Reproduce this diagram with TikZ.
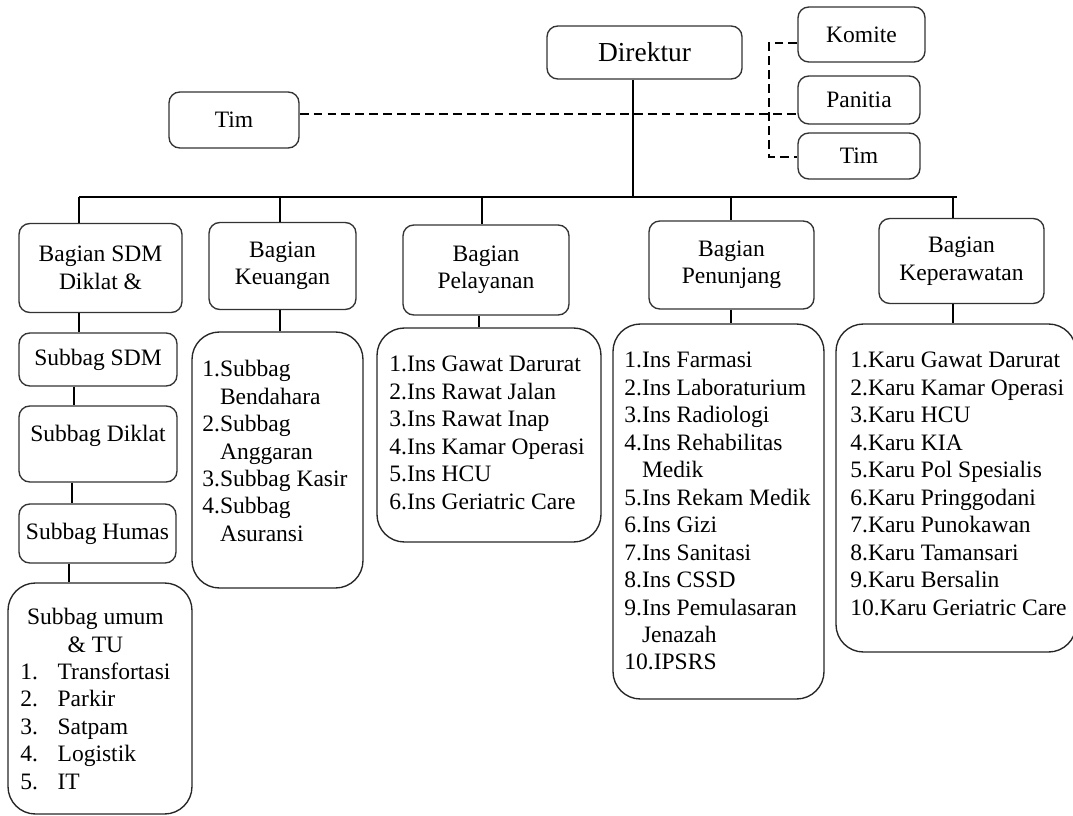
\documentclass[tikz,border=0pt]{standalone}
\usepackage{fontspec}
\setmainfont{Liberation Serif}
\usetikzlibrary{positioning,calc}

\begin{document}
\begin{tikzpicture}[x=0.51pt, y=-0.51pt,
  boxsize/.style 2 args={minimum width=#1*0.51pt, minimum height=#2*0.51pt},
  box/.style={draw=black!80, line width=0.7pt, rounded corners=5.5pt, inner sep=0pt, align=center, font=\fontsize{12}{14}\selectfont},
  listbox/.style={draw=black!85, line width=0.7pt, rounded corners=14pt, inner sep=0pt},
  listtext/.style={anchor=north west, inner sep=0pt, align=left, font=\fontsize{12}{14}\selectfont},
  link/.style={line width=1pt},
  dashlink/.style={line width=1pt, dash pattern=on 4.5pt off 2.6pt}]

\useasboundingbox (0,0) rectangle (1073,816);

% Direktur and staff units
\node[box, boxsize={195}{53}, font=\fontsize{14}{16}\selectfont] (dir) at (644.5,52.5) {Direktur};
\node[box, boxsize={127}{55}] (komite) at (861.5,34.5) {Komite};
\node[box, boxsize={122}{48}] (panitia) at (859,100) {Panitia};
\node[box, boxsize={122}{46}] (timr) at (859,156) {Tim};
\node[box, boxsize={130}{56}] (timl) at (234,120) {Tim};

% Dashed lines (staff)
\coordinate (dline) at (0,114);
\coordinate (kbend) at (769,43);
\coordinate (tbend) at (769,157);
\draw[dashlink] (timl.east |- dline) -- (panitia.west |- dline);
\draw[dashlink] (komite.west |- kbend) -- (kbend) -- (tbend) -- (timr.west |- tbend);

% Main line
\coordinate (hub) at (633,197);
\coordinate (hleft) at (79,197);
\coordinate (hright) at (957,197);
\draw[link] (dir.south -| hub) -- (hub);
\draw[link] (hleft) -- (hright);

% Bagian
\node[box, boxsize={163}{89}] (bsdm) at (100.5,268) {Bagian SDM\\Diklat \&};
\node[box, boxsize={147}{87}] (bkeu) at (282.5,266) {Bagian\\Keuangan};
\node[box, boxsize={166}{90}] (bpel) at (486,270) {Bagian\\Pelayanan};
\node[box, boxsize={165}{88}] (bpen) at (731.5,265) {Bagian\\Penunjang};
\node[box, boxsize={165}{85}] (bkep) at (961.5,261) {Bagian\\Keperawatan};

\foreach \n/\x in {bsdm/79, bkeu/280, bpel/482, bpen/731, bkep/953}
  \draw[link] (\x,197) -- (\n.north -| \x,0);

% SDM column
\node[box, boxsize={158}{53}] (ssdm) at (98,359.5) {Subbag SDM};
\node[box, boxsize={158}{76}, text depth=11pt] (sdik) at (98,444) {Subbag Diklat};
\node[box, boxsize={157}{59}] (shum) at (97.5,533.5) {Subbag Humas};
\node[listbox, boxsize={184}{231}] (sumum) at (100,698.5) {};
\node[listtext] (tumum) at (20,605) {\begin{tabular}{@{}l@{\hspace{10pt}}l@{}}
  \multicolumn{2}{@{}c@{}}{Subbag umum}\\
  \multicolumn{2}{@{}c@{}}{\& TU}\\
  1. & Transfortasi\\
  2. & Parkir\\
  3. & Satpam\\
  4. & Logistik\\
  5. & IT
\end{tabular}};

\draw[link] (bsdm.south -| 79,0) -- (ssdm.north -| 79,0);
\draw[link] (ssdm.south -| 74,0) -- (sdik.north -| 74,0);
\draw[link] (sdik.south -| 72,0) -- (shum.north -| 72,0);
\draw[link] (shum.south -| 69,0) -- (sumum.north -| 69,0);

% Lists
\node[listbox, boxsize={171}{256}] (lkeu) at (277.5,460) {};
\node[listtext] (tkeu) at (202,360) {1.Subbag\\\phantom{1.}Bendahara\\2.Subbag\\\phantom{2.}Anggaran\\3.Subbag Kasir\\4.Subbag\\\phantom{4.}Asuransi};

\node[listbox, boxsize={224}{214}] (lpel) at (489,435) {};
\node[listtext] (tpel) at (389,356) {1.Ins Gawat Darurat\\2.Ins Rawat Jalan\\3.Ins Rawat Inap\\4.Ins Kamar Operasi\\5.Ins HCU\\6.Ins Geriatric Care};

\node[listbox, boxsize={211}{375}] (lpen) at (718.5,511.5) {};
\node[listtext] (tpen) at (624,352) {1.Ins Farmasi\\2.Ins Laboraturium\\3.Ins Radiologi\\4.Ins Rehabilitas\\\phantom{4.}Medik\\5.Ins Rekam Medik\\6.Ins Gizi\\7.Ins Sanitasi\\8.Ins CSSD\\9.Ins Pemulasaran\\\phantom{9.}Jenazah\\10.IPSRS};

\node[listbox, boxsize={240}{328}] (lkep) at (956,488) {};
\node[listtext] (tkep) at (850,352) {1.Karu Gawat Darurat\\2.Karu Kamar Operasi\\3.Karu HCU\\4.Karu KIA\\5.Karu Pol Spesialis\\6.Karu Pringgodani\\7.Karu Punokawan\\8.Karu Tamansari\\9.Karu Bersalin\\10.Karu Geriatric Care};

\foreach \n/\m/\x in {bkeu/lkeu/280, bpel/lpel/479, bpen/lpen/731, bkep/lkep/953}
  \draw[link] (\n.south -| \x,0) -- (\m.north -| \x,0);

\end{tikzpicture}
\end{document}
